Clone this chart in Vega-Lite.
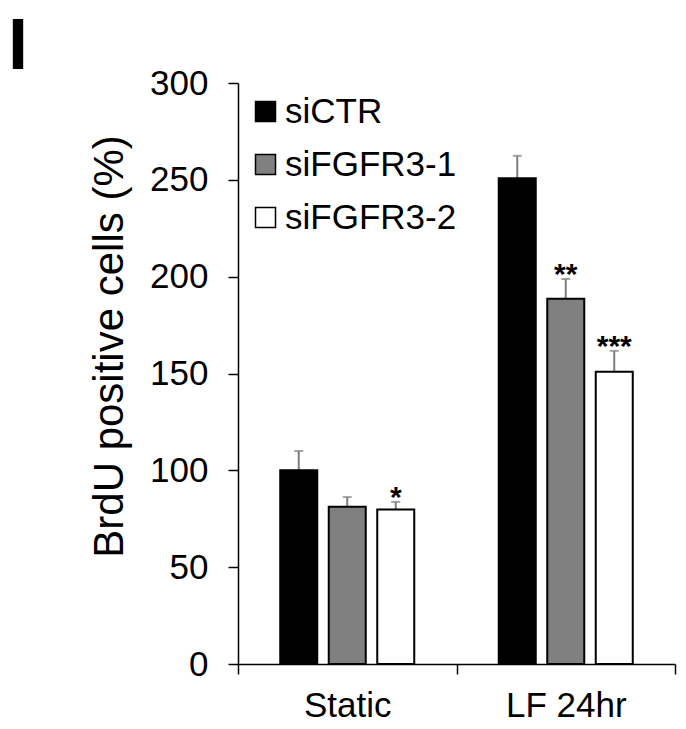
{
  "$schema": "https://vega.github.io/schema/vega-lite/v6.json",
  "width": 437,
  "height": 581,
  "autosize": "none",
  "padding": {"left": 238, "top": 83, "right": 11, "bottom": 65},
  "background": "white",
  "title": {"text": "I", "anchor": "start", "frame": "group", "fontSize": 72, "fontWeight": "bold", "font": "Liberation Sans", "color": "black", "dx": -230, "dy": 30, "offset": 12},
  "config": {
    "view": {"stroke": null},
    "font": "Liberation Sans",
    "axis": {"labelFont": "Liberation Sans", "titleFont": "Liberation Sans", "labelColor": "black", "titleColor": "black", "domainColor": "black", "tickColor": "black", "grid": false, "domainWidth": 1.5, "tickWidth": 1.5}
  },
  "data": {"values": [
    {"group": "Static", "series": "siCTR", "value": 100, "upper": 110, "sig": ""},
    {"group": "Static", "series": "siFGFR3-1", "value": 81.2, "upper": 86.2, "sig": ""},
    {"group": "Static", "series": "siFGFR3-2", "value": 79.8, "upper": 83.7, "sig": "*"},
    {"group": "LF 24hr", "series": "siCTR", "value": 250.8, "upper": 262.4, "sig": ""},
    {"group": "LF 24hr", "series": "siFGFR3-1", "value": 188.6, "upper": 198.8, "sig": "**"},
    {"group": "LF 24hr", "series": "siFGFR3-2", "value": 150.9, "upper": 161.7, "sig": "***"}
  ]},
  "encoding": {
    "x": {"field": "group", "type": "nominal", "sort": ["Static", "LF 24hr"],
      "scale": {"paddingInner": 0, "paddingOuter": 0},
      "axis": {"title": null, "labelAngle": 0, "labelFontSize": 35, "labelPadding": 14, "tickSize": 10, "tickBand": "extent"}},
    "xOffset": {"field": "series", "type": "nominal", "sort": ["siCTR", "siFGFR3-1", "siFGFR3-2"],
      "scale": {"paddingInner": 0.237, "paddingOuter": 0.871}}
  },
  "layer": [
    {
      "mark": {"type": "rule", "color": "#7f7f7f", "strokeWidth": 2},
      "encoding": {
        "y": {"field": "value", "type": "quantitative"},
        "y2": {"field": "upper"}
      }
    },
    {
      "mark": {"type": "tick", "color": "#7f7f7f", "size": 9, "thickness": 2, "orient": "horizontal"},
      "encoding": {
        "y": {"field": "upper", "type": "quantitative"}
      }
    },
    {
      "mark": {"type": "bar", "stroke": "black", "strokeWidth": 2},
      "encoding": {
        "y": {"field": "value", "type": "quantitative",
          "scale": {"domain": [0, 300], "nice": false},
          "axis": {"values": [0, 50, 100, 150, 200, 250, 300], "title": "BrdU positive cells (%)", "titleFontSize": 42, "titleFontWeight": "normal", "titlePadding": 18, "titleY": 263, "labelFontSize": 35, "labelPadding": 20, "tickSize": 10}},
        "fill": {"field": "series", "type": "nominal", "sort": ["siCTR", "siFGFR3-1", "siFGFR3-2"],
          "scale": {"domain": ["siCTR", "siFGFR3-1", "siFGFR3-2"], "range": ["#000000", "#808080", "#ffffff"]},
          "legend": {"title": null, "orient": "none", "legendX": 10, "legendY": 11, "symbolType": "square", "symbolSize": 400, "symbolStrokeColor": "black", "symbolStrokeWidth": 1.5, "labelFontSize": 35, "labelColor": "black", "labelOffset": 2, "labelLimit": 0, "rowPadding": 17}}
      }
    },
    {
      "mark": {"type": "text", "fontSize": 30, "fontWeight": "bold", "color": "black", "baseline": "alphabetic", "dy": 5},
      "encoding": {
        "y": {"field": "upper", "type": "quantitative"},
        "text": {"field": "sig"}
      }
    }
  ]
}
